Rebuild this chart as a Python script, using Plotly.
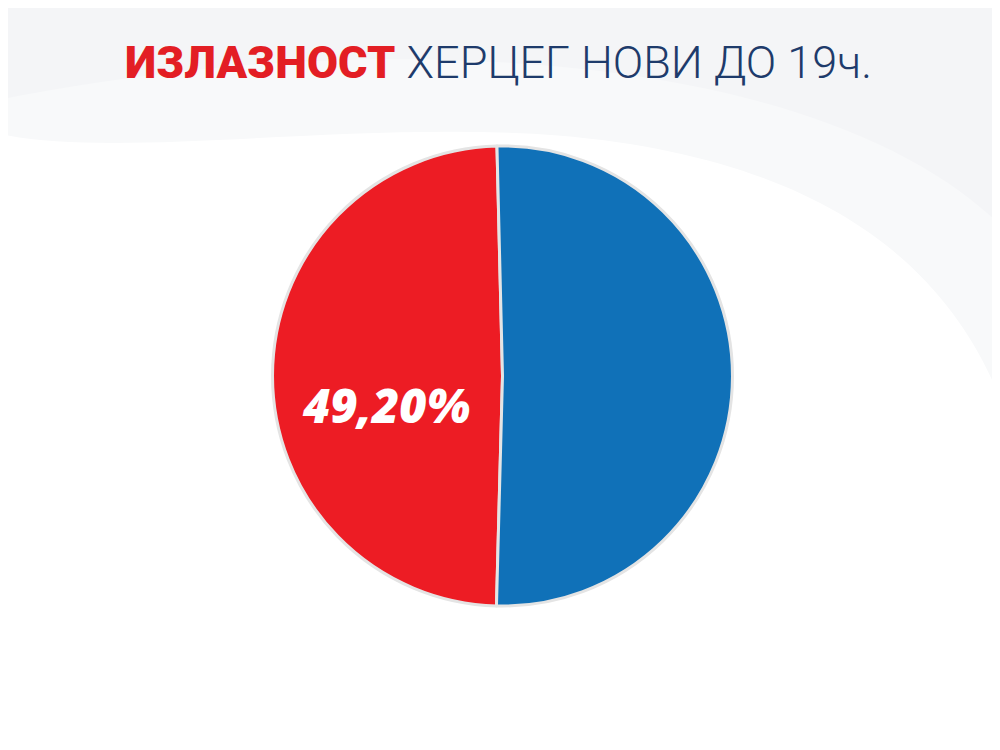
import plotly.graph_objects as go

labels = ["Излазност", "Остало"]
values = [49.20, 50.80]
colors = ["#ED1C24", "#1071B8"]
title_red = "ИЗЛАЗНОСТ"
title_rest = "ХЕРЦЕГ НОВИ ДО 19ч."
label_text = f"{values[0]:.2f}".replace(".", ",") + "%"

fig = go.Figure()
fig.add_trace(go.Pie(
    labels=labels,
    values=values,
    textinfo="none",
    sort=False,
    direction="clockwise",
    rotation=181.5,
    marker=dict(colors=colors, line=dict(color="#E4E4E4", width=3)),
    domain=dict(x=[0.264, 0.725], y=[0.2027, 0.8160]),
    showlegend=False,
    hoverinfo="label+value",
))

fig.add_annotation(
    x=0.378, y=0.4707, xref="paper", yref="paper",
    text=label_text, showarrow=False,
    xanchor="center", yanchor="middle",
    font=dict(family="Open Sans", size=47, color="white", weight=800, style="italic"),
)

# very faint background swooshes
fig.add_shape(
    type="path", xref="paper", yref="paper", layer="below",
    path="M 0,1 L 1,1 L 1,0.45 C 0.95,0.65 0.82,0.80 0.55,0.83 C 0.35,0.85 0.12,0.80 0,0.83 Z",
    fillcolor="#F8F9FA", line=dict(width=0),
)
fig.add_shape(
    type="path", xref="paper", yref="paper", layer="below",
    path="M 0,1 L 1,1 L 1,0.70 C 0.90,0.84 0.70,0.92 0.45,0.93 C 0.25,0.94 0.08,0.90 0,0.88 Z",
    fillcolor="#F4F5F7", line=dict(width=0),
)

fig.update_layout(
    width=1000, height=750,
    margin=dict(l=0, r=0, t=0, b=0),
    paper_bgcolor="white",
    plot_bgcolor="white",
    title=dict(
        text=f"<span style='color:#E31E24;font-weight:900'>{title_red}</span> "
             f"<span style='color:#1E3B6B;font-weight:300'>{title_rest}</span>",
        x=0.4905, xanchor="center",
        y=0.928, yanchor="middle",
        font=dict(family="Roboto", size=45),
    ),
)

fig.write_html("out.html")
